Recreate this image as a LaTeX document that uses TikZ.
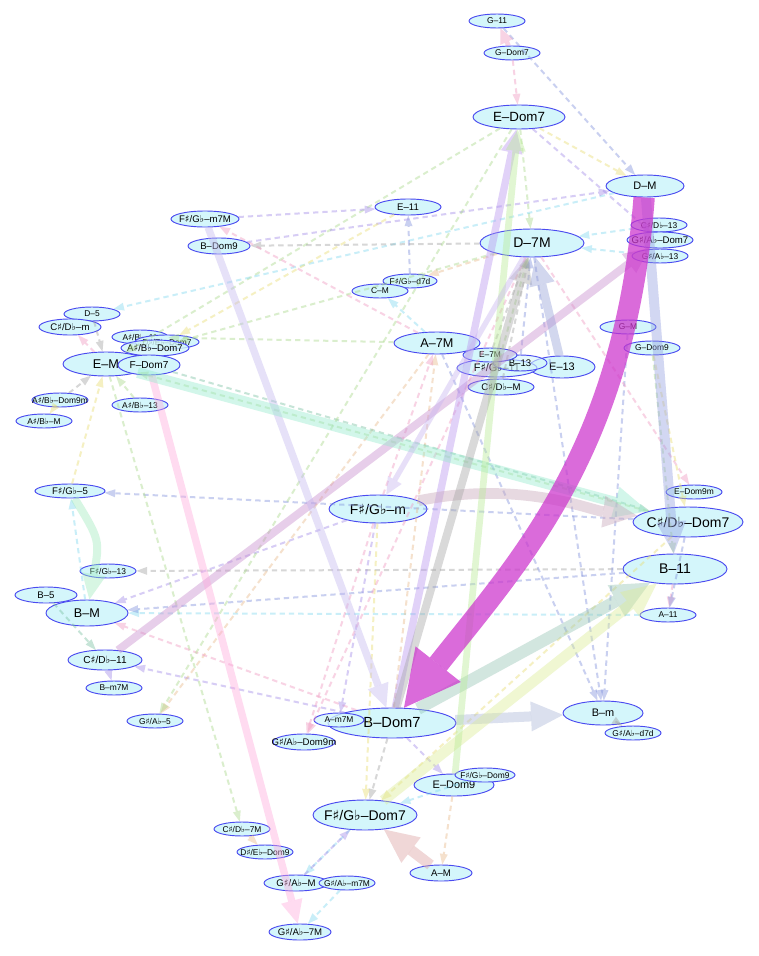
\documentclass[tikz,border=0pt]{standalone}
\usepackage{fontspec}
\usetikzlibrary{arrows.meta,shapes.geometric}
\newfontfamily\lbl[Ligatures=TeX]{Liberation Sans}
\newfontfamily\symf{DejaVu Sans}
\newcommand{\shp}{{\symf ♯}}
\newcommand{\flt}{{\symf ♭}}
\newcommand{\lab}[1]{\makebox[0pt]{#1}}
\definecolor{chordfill}{HTML}{D4F6FB}
\definecolor{chordline}{HTML}{4A4AF0}
\definecolor{emag}{HTML}{CC33CC}
\definecolor{cg}{HTML}{A8D888}
\definecolor{cb}{HTML}{8090DC}
\definecolor{cp}{HTML}{A088E8}
\definecolor{ck}{HTML}{F098C0}
\definecolor{cc}{HTML}{80D8F0}
\definecolor{cy}{HTML}{E8DC70}
\definecolor{ct}{HTML}{78C0A0}
\definecolor{co}{HTML}{E8B888}
\definecolor{ca}{HTML}{A0A0A0}
\tikzset{
  chd/.style={ellipse, draw=chordline, fill=chordfill, line width=0.7pt, inner sep=0pt},
  xs/.style={chd, font=\lbl\fontsize{6.3}{7}\selectfont, minimum width=42pt, minimum height=10.5pt},
  sm/.style={chd, font=\lbl\fontsize{7.2}{8}\selectfont, minimum width=49.5pt, minimum height=12pt},
  md/.style={chd, font=\lbl\fontsize{8.2}{9}\selectfont, minimum width=60pt, minimum height=16.5pt},
  lm/.style={chd, font=\lbl\fontsize{9.5}{11}\selectfont, minimum width=64.5pt, minimum height=18pt},
  lg/.style={chd, font=\lbl\fontsize{10.5}{12}\selectfont, minimum width=78pt, minimum height=21pt},
  dsh/.style={dashed, dash pattern=on 4pt off 3pt, line width=1.5pt, opacity=0.42, -{Triangle[length=8pt,width=6pt,line width=0pt]}},
  tk/.style={line width=#1, opacity=0.42, -{Triangle[length=0pt 3.2, width=0pt 3, line width=0pt]}},
}
\begin{document}
\begin{tikzpicture}[x=0.75pt,y=-0.75pt]
  \fill[white] (0,0) rectangle (758,956);
  \useasboundingbox (0,0) rectangle (758,956);
  % chords
  \node[xs] (g11) at (497,21) {\lab{G--11}};
  \node[xs] (gd7) at (512,53) {\lab{G--Dom7}};
  \node[lg, minimum width=69pt, minimum height=18pt, font=\lbl\fontsize{10}{12}\selectfont] (ed7) at (519,117) {\lab{E--Dom7}};
  \node[md, minimum width=58.5pt] (dm) at (645,186) {\lab{D--M}};
  \node[sm] (e11) at (408,207) {\lab{E--11}};
  \node[sm, minimum width=51pt] (fsm7m) at (205,219) {\lab{F\shp/G\flt--m7M}};
  \node[sm, minimum width=46.5pt] (bd9) at (219,246) {\lab{B--Dom9}};
  \node[lg] (d7m) at (532,243) {\lab{D--7M}};
  \node[xs] (csd13) at (659,225) {\lab{C\shp/D\flt--13}};
  \node[sm] (gsd7) at (660,240) {\lab{G\shp/A\flt--Dom7}};
  \node[xs] (gs13) at (660,256) {\lab{G\shp/A\flt--13}};
  \node[xs, minimum width=40.5pt] (fsd7d) at (410,281) {\lab{F\shp/G\flt--d7d}};
  \node[xs] (cm) at (380,291) {\lab{C--M}};
  \node[xs] (d5) at (92,314) {\lab{D--5}};
  \node[sm, minimum width=46.5pt] (csm) at (70,327) {\lab{C\shp/D\flt--m}};
  \node[xs] (as11) at (140,337) {\lab{A\shp/B\flt--11}};
  \node[xs, minimum width=48pt] (dsd7) at (167,342) {\lab{D\shp/E\flt--Dom7}};
  \node[sm, minimum width=51pt, fill opacity=0.8, text opacity=1] (asd7) at (155,348) {\lab{A\shp/B\flt--Dom7}};
  \node[lm] (em) at (106,364) {\lab{E--M}};
  \node[sm, minimum width=46.5pt, minimum height=15pt, font=\lbl\fontsize{7.6}{9}\selectfont] (fd7) at (149,365) {\lab{F--Dom7}};
  \node[xs] (as13) at (140,405) {\lab{A\shp/B\flt--13}};
  \node[xs] (asd9m) at (60,400) {\lab{A\shp/B\flt--Dom9m}};
  \node[xs] (asm) at (44,421) {\lab{A\shp/B\flt--M}};
  \node[xs] (gm) at (628,327) {\lab{G--M}};
  \node[xs] (gd9) at (652,348) {\lab{G--Dom9}};
  \node[lm, minimum height=16.5pt] (a7m) at (437,343) {\lab{A--7M}};
  \node[md, minimum width=49.5pt, minimum height=16.5pt] (e13) at (562,367) {\lab{E--13}};
  \node[md, fill opacity=0.85, text opacity=1, minimum height=13.5pt] (fs11) at (497,368) {\lab{F\shp/G\flt--11}};
  \node[sm, minimum width=40.5pt, fill opacity=0.6, text opacity=1] (b13) at (520,363) {\lab{B--13}};
  \node[xs, minimum width=40.5pt] (e7m) at (490,355) {\lab{E--7M}};
  \node[sm] (csdm) at (501,387) {\lab{C\shp/D\flt--M}};
  \node[sm, minimum width=52.5pt, minimum height=10.5pt] (fs5) at (70,491) {\lab{F\shp/G\flt--5}};
  \node[xs] (ed9m) at (694,492) {\lab{E--Dom9m}};
  \node[lg, minimum width=73.5pt] (fsm) at (378,509) {\lab{F\shp/G\flt--m}};
  \node[lg, minimum width=82.5pt, minimum height=22.5pt] (cd7) at (688,522) {\lab{C\shp/D\flt--Dom7}};
  \node[xs] (fs13) at (108,571) {\lab{F\shp/G\flt--13}};
  \node[lg, minimum height=22.5pt] (b11) at (675,569) {\lab{B--11}};
  \node[sm, minimum width=46.5pt] (b5) at (46,595) {\lab{B--5}};
  \node[lm, minimum width=61.5pt, minimum height=19.5pt] (bm) at (87,613) {\lab{B--M}};
  \node[xs] (a11) at (668,615) {\lab{A--11}};
  \node[sm, minimum width=55.5pt, minimum height=15pt, font=\lbl\fontsize{7.6}{9}\selectfont] (cs11) at (105,660) {\lab{C\shp/D\flt--11}};
  \node[xs] (bm7m) at (114,688) {\lab{B--m7M}};
  \node[xs] (gs5) at (155,721) {\lab{G\shp/A\flt--5}};
  \node[md, minimum height=18pt] (bmin) at (603,713) {\lab{B--m}};
  \node[xs] (gsd7d) at (633,733) {\lab{G\shp/A\flt--d7d}};
  \node[lg, minimum width=96pt, minimum height=22.5pt, font=\lbl\fontsize{11}{13}\selectfont] (bd7) at (392,723) {\lab{B--Dom7}};
  \node[xs, minimum width=37.5pt, fill opacity=0.75, text opacity=1] (am7m) at (339,720) {\lab{A--m7M}};
  \node[sm, minimum width=46.5pt] (gsd9m) at (304,742) {\lab{G\shp/A\flt--Dom9m}};
  \node[md] (ed9) at (454,785) {\lab{E--Dom9}};
  \node[xs, minimum width=45pt] (fsd9) at (485,775) {\lab{F\shp/G\flt--Dom9}};
  \node[lg, minimum height=22.5pt] (fsd7) at (365,815) {\lab{F\shp/G\flt--Dom7}};
  \node[xs] (cs7m) at (242,829) {\lab{C\shp/D\flt--7M}};
  \node[xs] (dsd9) at (265,852) {\lab{D\shp/E\flt--Dom9}};
  \node[sm, minimum width=46.5pt] (amaj) at (441,873) {\lab{A--M}};
  \node[sm, minimum width=48pt] (gsM) at (296,883) {\lab{G\shp/A\flt--M}};
  \node[xs] (gsm7m) at (347,883) {\lab{G\shp/A\flt--m7M}};
  \node[sm, minimum width=46.5pt] (gs7m) at (300,932) {\lab{G\shp/A\flt--7M}};
  % thin transitions
  \draw[dsh, ck] (gd7) -- (ed7);
  \draw[dsh, cb] (g11) -- (dm);
  \draw[dsh, cy] (ed7) -- (dm);
  \draw[dsh, cg] (ed7) -- (d7m);
  \draw[dsh, cg] (ed7) -- (em);
  \draw[dsh, cp] (ed7) -- (gsd7);
  \draw[dsh, cp] (fsm7m) -- (e11);
  \draw[dsh, cb] (fsd7d) -- (e11);
  \draw[dsh, cc] (dm) -- (d5);
  \draw[dsh, co] (d7m) -- (fsd7d);
  \draw[dsh, cc] (csd13) -- (d7m);
  \draw[dsh, cc] (gs13) -- (d7m);
  \draw[dsh, ca] (d7m) -- (bd9);
  \draw[dsh, ck] (a7m) -- (fsm7m);
  \draw[dsh, cg] (d7m) -- (asd7);
  \draw[dsh, cp] (bd9) -- (dm);
  \draw[dsh, cb] (cd7) -- (fs5);
  \draw[dsh, ca] (b11) -- (fs13);
  \draw[dsh, cc] (a11) -- (bm);
  \draw[dsh, cp] (fsm) -- (bm);
  \draw[dsh, cp] (bd7) -- (cs11);
  \draw[dsh, co] (a7m) -- (gs5);
  \draw[dsh, cg] (em) -- (cs7m);
  \draw[dsh, cc] (fsd7) -- (gsM);
  \draw[dsh, cc] (gsm7m) -- (gs7m);
  \draw[dsh, cp] (gsM) -- (fsd7);
  \draw[dsh, co] (ed9) -- (amaj);
  \draw[dsh, cb] (d7m) -- (bmin);
  \draw[dsh, cg] (gd9) -- (b11);
  \draw[dsh, cy] (gd9) -- (cd7);
  \draw[dsh, ck] (fsm) -- (gsd9m);
  \draw[dsh, cp] (bd7) -- (ed9);
  \draw[dsh, ck] (b11) -- (a11);
  \draw[dsh, cb] (cd7) -- (a11);
  \draw[dsh, ca] (bd7) -- (fsd7);
  \draw[dsh, cy] (fsm) -- (fsd7);
  \draw[dsh, cg] (as13) -- (em);
  \draw[dsh, cy] (fs5) -- (em);
  \draw[dsh, ca] (asd9m) -- (em);
  \draw[dsh, ck] (em) -- (csm);
  \draw[dsh, ca] (d5) -- (em);
  \draw[dsh, cc] (bm) -- (fs5);
  \draw[dsh, ck] (bd7) -- (bm);
  \draw[dsh, cp] (cs11) -- (bm7m);
  \draw[dsh, co] (bd7) -- (a7m);
  \draw[dsh, ck] (fsm) -- (a7m);
  \draw[dsh, ca] (csdm) -- (d7m);
  \draw[dsh, cg] (fs11) -- (d7m);
  \draw[dsh, cc] (a7m) -- (cm);
  \draw[dsh, cb] (gm) -- (bmin);
  \draw[dsh, ck] (d7m) -- (ed9m);
  \draw[dsh, ca] (bmin) -- (gsd7d);
  \draw[dsh, cp] (fsm) -- (am7m);
  \draw[dsh, co] (cs7m) -- (dsd9);
  \draw[dsh, cg] (a7m) -- (as11);
  \draw[dsh, cy] (e11) -- (dsd7);
  \draw[dsh, cy] (asd9m) -- (asm);
  \draw[dsh, ct] (b5) -- (cs11);
  \draw[dsh, ca] (e7m) -- (d7m);
  \draw[dsh, cb] (b13) -- (d7m);
  \draw[dsh, cc] (fsd9) -- (fsd7);
  \draw[dsh, ct] (fd7) -- (cd7);
  \draw[dsh, cg] (cd7) -- (em);
  \draw[dsh, cb] (b11) -- (bm);
  \draw[dsh, ck] (d7m) -- (gsd9m);
  \draw[dsh, cg] (ed7) -- (gs5);
  \draw[dsh, cb] (a7m) -- (bmin);
  \draw[dsh, cy] (cd7) -- (fsd7);
  % heavy transitions
  \draw[tk=3.5pt, draw=ck] (gd7) -- (g11);
  \draw[tk=6pt, draw={rgb,255:red,200;green,140;blue,205}] (cs11) -- (gsd7);
  \draw[tk=5.5pt, draw={rgb,255:red,255;green,170;blue,221}] (fd7) -- (gs7m);
  \draw[tk=5.5pt, draw={rgb,255:red,196;green,184;blue,240}] (fsm7m) -- (bd7);
  \draw[tk=5.5pt, draw={rgb,255:red,184;green,150;blue,240}] (bd7) -- (ed7);
  \draw[tk=8pt, draw={rgb,255:red,150;green,235;blue,205}] (em) -- (cd7);
  \draw[tk=7.5pt, draw={rgb,255:red,150;green,160;blue,225}] (dm) -- (b11);
  \draw[tk=8pt, draw={rgb,255:red,200;green,165;blue,185}] (fsm) .. controls (520,480) and (590,510) .. (cd7);
  \draw[tk=7.5pt, draw={rgb,255:red,170;green,182;blue,215}] (bd7) -- (bmin);
  \draw[tk=9pt, draw={rgb,255:red,150;green,196;blue,180}] (bd7) -- (b11);
  \draw[tk=8pt, draw={rgb,255:red,220;green,236;blue,150}] (fsd7) -- (b11);
  \draw[tk=5pt, draw={rgb,255:red,185;green,235;blue,150}] (ed9) -- (ed7);
  \draw[tk=6pt, draw={rgb,255:red,165;green,165;blue,165}] (bd7) -- (d7m);
  \draw[tk=6.5pt, draw={rgb,255:red,150;green,160;blue,215}] (e13) -- (d7m);
  \draw[tk=8pt, draw={rgb,255:red,220;green,160;blue,160}] (amaj) -- (fsd7);
  \draw[tk=6pt, draw={rgb,255:red,160;green,235;blue,190}] (fs5) .. controls (100,540) .. (bm);
  \draw[tk=4pt, draw={rgb,255:red,200;green,180;blue,240}] (d7m) -- (fsm);
  \draw[line width=16pt, draw=emag, opacity=0.72, -{Triangle[length=0pt 2.6, width=0pt 2.7, line width=0pt]}] (dm) .. controls (625,450) and (520,560) .. (bd7);
\end{tikzpicture}
\end{document}
